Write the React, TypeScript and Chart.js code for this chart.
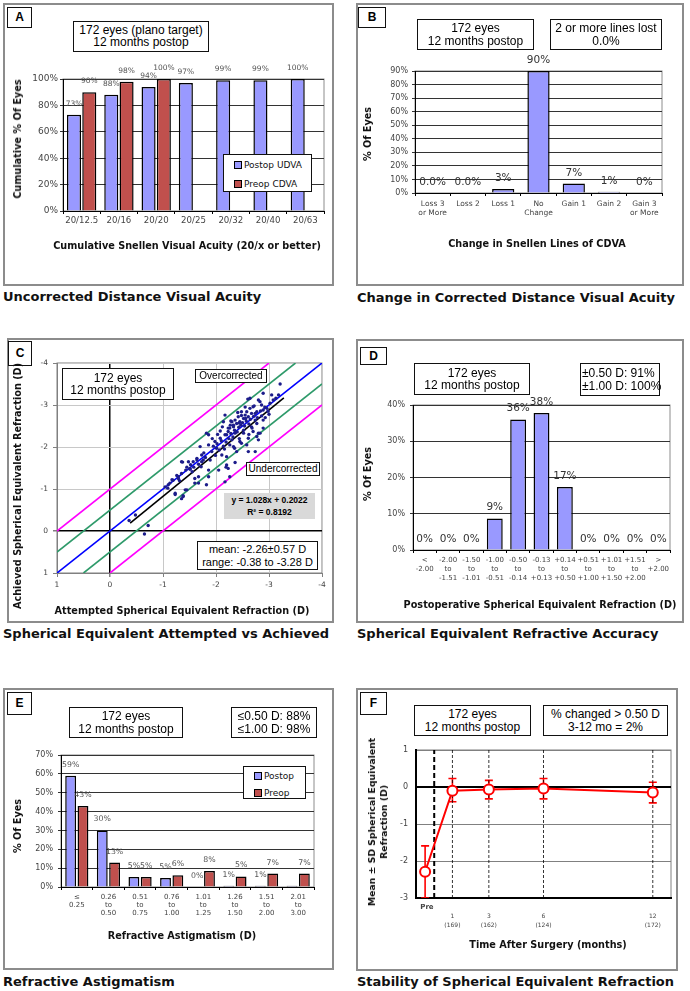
import React, { useEffect, useRef } from "react";
import { Chart, registerables } from "chart.js";

Chart.register(...registerables);
Chart.defaults.font.family = "'DejaVu Sans', Verdana, sans-serif";
Chart.defaults.color = "#444";

// ================= DATA =================
// Panel A - cumulative Snellen acuity
const acuityLabels = ["20/12.5", "20/16", "20/20", "20/25", "20/32", "20/40", "20/63"];
const postopUdva = [73, 88, 94, 97, 99, 99, 100];
const preopCdva = [90, 98, 100, null, null, null, null];
const postopUdvaText = ["73%", "88%", "94%", "97%", "99%", "99%", "100%"];
const preopCdvaText = ["90%", "98%", "100%", null, null, null, null];

// Panel B - change in lines of CDVA
const lineChangeLabels = [["Loss 3", "or More"], "Loss 2", "Loss 1", ["No", "Change"], "Gain 1", "Gain 2", ["Gain 3", "or More"]];
const lineChangeValues = [0, 0, 3, 90, 7, 1, 0];
const lineChangeText = ["0.0%", "0.0%", "3%", "90%", "7%", "1%", "0%"];

// Panel C - attempted vs achieved SE (D)
const attempted = [
  -0.36, -0.48, -0.72, -0.65, -1.04, -1.09, -1.13, -1.19, -1.23, -1.29, -1.35, -1.38, -1.42, -1.37, -1.43, -1.48,
  -1.51, -1.55, -1.6, -1.64, -1.67, -1.72, -1.76, -1.82, -1.86, -1.29, -1.45, -1.57, -1.64, -1.73, -1.82, -1.86,
  -1.92, -1.98, -2.01, -2.08, -2.11, -2.17, -2.2, -2.23, -2.26, -2.3, -2.33, -2.36, -2.39, -2.45, -2.48, -2.52,
  -2.56, -2.61, -2.67, -2.74, -2.8, -1.73, -1.67, -1.6, -2.05, -2.17, -2.23, -3.21, -3.18, -3.13, -3.08, -3.02,
  -2.96, -2.89, -2.83, -2.8, -2.86, -2.77, -2.7, -2.67, -2.64, -2.61, -2.58, -2.55, -2.52, -2.48, -2.44, -2.42,
  -2.39, -2.36, -2.33, -2.3, -2.26, -2.23, -2.17, -2.14, -2.2, -2.83, -2.77, -2.89, -2.68, -2.8, -2.61, -2.7,
  -3.05, -2.89, -2.6, -2.52, -2.45, -2.58, -2.33, -2.74, -2.26, -2.36, -2.19, -2.77, -2.89, -2.2, -1.89, -1.7,
  -1.86, -1.23, -1.35, -1.38, -1.45, -1.67, -1.86, -1.35, -1.51, -1.95, -2.02, -2.06, -2.1, -2.14, -2.19, -2.24,
  -2.28, -2.32, -2.35, -2.4, -2.43, -2.47, -2.5, -2.54, -2.57, -2.62, -2.65, -2.71, -2.74, -2.78, -2.84, -2.92,
  -2.98, -2.03, -1.93, -1.8, -1.77, -1.99, -2.08, -2.28, -2.41, -2.55, -2.64, -1.1, -1.17, -1.26, -1.31, -1.52,
  -1.58, -2.12, -2.35, -2.62, -2.93, -2.72, -2.48, -2.27, -3.0, -2.86, -2.44, -2.16,
];
const achieved = [
  -0.25, -0.38, -0.13, 0.07, -1.05, -1.02, -1.14, -1.21, -0.87, -1.29, -1.37, -0.82, -0.98, -1.64, -1.45, -1.65,
  -1.49, -1.41, -1.14, -1.69, -1.59, -1.53, -1.69, -1.1, -1.45, -1.25, -1.52, -1.65, -1.73, -1.81, -2.33, -2.05,
  -1.89, -2.13, -1.97, -2.21, -1.81, -2.29, -1.57, -2.45, -2.05, -2.17, -2.52, -2.33, -1.89, -2.6, -2.09, -2.4,
  -2.68, -2.21, -2.48, -2.64, -2.33, -1.65, -1.29, -1.25, -1.45, -1.17, -1.49, -3.5, -3.24, -3.16, -3.12, -3.04,
  -2.92, -2.88, -3.08, -3.12, -3.0, -2.84, -2.96, -2.8, -2.92, -2.72, -2.84, -2.76, -2.68, -2.84, -2.57, -2.72,
  -2.56, -2.64, -2.48, -2.6, -2.45, -2.37, -2.76, -2.6, -2.29, -2.33, -2.56, -2.64, -2.45, -2.17, -1.89, -2.37,
  -3.24, -3.28, -3.14, -2.33, -2.13, -2.05, -2.01, -1.89, -1.29, -1.63, -1.52, -2.25, -2.45, -1.77, -1.69, -2.01,
  -2.29, -0.9, -0.77, -0.84, -0.98, -1.14, -1.29, -1.65, -1.47, -2.02, -2.08, -1.93, -2.15, -2.02, -2.12, -2.2,
  -2.32, -2.24, -2.4, -2.36, -2.47, -2.52, -2.58, -2.5, -2.62, -2.55, -2.66, -2.73, -2.8, -2.7, -2.86, -2.95,
  -2.85, -2.3, -2.2, -1.75, -1.86, -1.8, -2.38, -2.62, -2.82, -2.95, -3.16, -1.1, -1.22, -1.32, -1.2, -1.58,
  -1.52, -2.48, -1.97, -2.3, -2.7, -2.98, -2.75, -2.52, -2.78, -2.74, -2.2, -1.95,
];
const identityLine = [{ x: 1, y: 1 }, { x: -4, y: -4 }];
const overHalfLine = [{ x: 1, y: 0.5 }, { x: -3.5, y: -4 }];
const underHalfLine = [{ x: 0.5, y: 1 }, { x: -4, y: -3.5 }];
const overOneLine = [{ x: 1, y: 0 }, { x: -3, y: -4 }];
const underOneLine = [{ x: 0, y: 1 }, { x: -4, y: -3 }];
const regressionLine = [{ x: -0.38, y: -0.19 }, { x: -3.28, y: -3.17 }];

// Panel D - SE accuracy
const seBins = [
  ["<", "-2.00"], ["-2.00", "to", "-1.51"], ["-1.50", "to", "-1.01"], ["-1.00", "to", "-0.51"],
  ["-0.50", "to", "-0.14"], ["-0.13", "to", "+0.13"], ["+0.14", "to", "+0.50"], ["+0.51", "to", "+1.00"],
  ["+1.01", "to", "+1.50"], ["+1.51", "to", "+2.00"], [">", "+2.00"],
];
const seValues = [0, 0, 0, 8.7, 36, 37.8, 17.4, 0, 0, 0, 0];
const seText = ["0%", "0%", "0%", "9%", "36%", "38%", "17%", "0%", "0%", "0%", "0%"];

// Panel E - refractive astigmatism
const astigBins = [
  ["\u2264", "0.25"], ["0.26", "to", "0.50"], ["0.51", "to", "0.75"], ["0.76", "to", "1.00"],
  ["1.01", "to", "1.25"], ["1.26", "to", "1.50"], ["1.51", "to", "2.00"], ["2.01", "to", "3.00"],
];
const astigPostop = [59, 30, 5.3, 4.8, 0, 0.6, 0.6, 0.6];
const astigPreop = [43, 13, 5.3, 6.2, 8.5, 5.6, 7.1, 7.1];
const astigPostopText = ["59%", "30%", "5%", "5%", "0%", "1%", "1%", null];
const astigPreopText = ["43%", "13%", "5%", "6%", "8%", "5%", "7%", "7%"];

// Panel F - stability
const stabMonths = [-0.5, 1, 3, 6, 12];
const stabMean = [-2.29, -0.1, -0.07, -0.04, -0.15];
const stabUpper = [-1.59, 0.23, 0.18, 0.23, 0.13];
const stabLower = [-3.0, -0.4, -0.32, -0.32, -0.43];
const stabTickValues = [-0.4, 1, 3, 6, 12];
const stabTickText = [["Pre"], ["", "1", "(169)"], ["", "3", "(162)"], ["", "6", "(124)"], ["", "12", "(172)"]];
const stabVisitLines = [1, 3, 6, 12];
const surgeryLine = 0;

// ================= STYLE =================
const BLUE = "#9999FF";
const RED = "#C0504D";
const ARIAL = "'Liberation Sans', Arial, sans-serif";
const VERD = "'DejaVu Sans', Verdana, sans-serif";

type Rect = { x: number; y: number; w: number; h: number };
type Plot = { l: number; t: number; r: number; b: number };

function geom(frame: Rect, plot: Plot) {
  return {
    layout: { padding: { left: 0, top: plot.t - frame.y, right: frame.x + frame.w - plot.r, bottom: 0 } },
    yFit: (s: any) => { s.width = plot.l - frame.x; },
    xFit: (s: any) => { s.height = frame.y + frame.h - plot.b; },
  };
}

const baseOptions = {
  responsive: true,
  maintainAspectRatio: false,
  animation: false,
  devicePixelRatio: 1,
  events: [],
  plugins: { legend: { display: false }, tooltip: { enabled: false }, title: { display: false } },
};

function framePlugin(color: string) {
  return {
    id: "plotFrame",
    beforeDraw(chart: any) {
      const { ctx, chartArea: a } = chart;
      ctx.save();
      ctx.strokeStyle = color;
      ctx.lineWidth = 1;
      ctx.strokeRect(a.left, a.top, a.right - a.left, a.bottom - a.top);
      ctx.restore();
    },
  };
}

function barLabels(texts: (string | null)[][], font: string, color: string, offset: number) {
  return {
    id: "barLabels",
    afterDatasetsDraw(chart: any) {
      const ctx = chart.ctx;
      ctx.save();
      ctx.font = font;
      ctx.fillStyle = color;
      ctx.textAlign = "center";
      ctx.textBaseline = "middle";
      texts.forEach((arr, di) => {
        const meta = chart.getDatasetMeta(di);
        arr.forEach((t, i) => {
          const el = meta.data[i];
          if (t == null || !el) return;
          ctx.fillText(t, el.x, el.y - offset);
        });
      });
      ctx.restore();
    },
  };
}

function errorBars(datasetIndex: number, upper: number[], lower: number[], color: string) {
  return {
    id: "errorBars",
    beforeDatasetsDraw(chart: any) {
      const meta = chart.getDatasetMeta(datasetIndex);
      const ys = chart.scales.y;
      const a = chart.chartArea;
      const ctx = chart.ctx;
      ctx.save();
      ctx.beginPath();
      ctx.rect(a.left, a.top - 2, a.right - a.left, a.bottom - a.top + 2);
      ctx.clip();
      ctx.strokeStyle = color;
      ctx.lineWidth = 1.6;
      meta.data.forEach((pt: any, i: number) => {
        const yu = ys.getPixelForValue(upper[i]);
        const yl = ys.getPixelForValue(lower[i]);
        ctx.beginPath();
        ctx.moveTo(pt.x, yu);
        ctx.lineTo(pt.x, yl);
        ctx.moveTo(pt.x - 4, yu);
        ctx.lineTo(pt.x + 4, yu);
        ctx.moveTo(pt.x - 4, yl);
        ctx.lineTo(pt.x + 4, yl);
        ctx.stroke();
      });
      ctx.restore();
    },
  };
}

// ================= COMPONENTS =================
function ChartBox({ rect, make }: { rect: Rect; make: () => any }) {
  const ref = useRef<HTMLCanvasElement>(null);
  useEffect(() => {
    const chart = new Chart(ref.current as HTMLCanvasElement, make());
    return () => chart.destroy();
  }, []);
  return (
    <div style={{ position: "absolute", left: rect.x, top: rect.y, width: rect.w, height: rect.h }}>
      <canvas ref={ref} />
    </div>
  );
}

function Frame({ r }: { r: Rect }) {
  return (
    <div style={{ position: "absolute", left: r.x, top: r.y, width: r.w, height: r.h, border: "2px solid #8c8c8c", boxSizing: "border-box" }} />
  );
}

function Box({ r, lines, font, align = "center", bg = "#fff", border = "1px solid #111", lh = 12.5, pad = 0 }: any) {
  return (
    <div
      style={{
        position: "absolute", left: r.x, top: r.y, width: r.w, height: r.h, boxSizing: "border-box",
        border, background: bg, display: "flex", flexDirection: "column", justifyContent: "center",
        alignItems: align === "center" ? "center" : "flex-start", paddingLeft: pad, font, lineHeight: lh + "px",
        color: "#000", whiteSpace: "nowrap", zIndex: 2,
      }}
    >
      {lines.map((l: string, i: number) => (<div key={i}>{l}</div>))}
    </div>
  );
}

function Letter({ r, text }: { r: Rect; text: string }) {
  return <Box r={r} lines={[text]} font={`bold 12px ${ARIAL}`} border="1.5px solid #111" />;
}

function Caption({ x, cy, text }: { x: number; cy: number; text: string }) {
  return (
    <div style={{ position: "absolute", left: x, top: cy - 8, lineHeight: "16px", font: `bold 13px ${VERD}`, color: "#111", whiteSpace: "nowrap" }}>
      {text}
    </div>
  );
}

function AxisTitle({ cx, cy, lines, vertical = false, size = 9.7, lh = 12 }: any) {
  return (
    <div
      style={{
        position: "absolute", left: cx, top: cy, transform: `translate(-50%,-50%)${vertical ? " rotate(-90deg)" : ""}`,
        whiteSpace: "nowrap", font: `bold ${size}px ${VERD}`, lineHeight: lh + "px", textAlign: "center", color: "#111", zIndex: 2,
      }}
    >
      {lines.map((l: string, i: number) => (<div key={i}>{l}</div>))}
    </div>
  );
}

function Legend({ r, items, rows }: { r: Rect; items: { label: string; color: string }[]; rows: number[] }) {
  return (
    <div style={{ position: "absolute", left: r.x, top: r.y, width: r.w, height: r.h, border: "1px solid #111", background: "#fff", boxSizing: "border-box", zIndex: 2 }}>
      {items.map((it, i) => (
        <div key={i} style={{ position: "absolute", left: 10, top: rows[i] - r.y - 6, height: 12, display: "flex", alignItems: "center", font: `9px ${VERD}`, color: "#111", whiteSpace: "nowrap" }}>
          <span style={{ display: "inline-block", width: 6, height: 6, background: it.color, border: "1px solid #000", marginRight: 2 }} />
          {it.label}
        </div>
      ))}
    </div>
  );
}

// ---------- category bar chart factory ----------
function barConfig(frame: Rect, plot: Plot, labels: any[], datasets: any[], yMax: number, yStep: number, opt: any) {
  const g = geom(frame, plot);
  return {
    type: "bar",
    data: {
      labels,
      datasets: datasets.map((d) => ({ ...d, borderColor: "#000", borderWidth: 1.5 })),
    },
    options: {
      ...baseOptions,
      layout: g.layout,
      datasets: { bar: { categoryPercentage: opt.cat, barPercentage: opt.bar } },
      scales: {
        x: {
          afterFit: g.xFit,
          grid: { offset: true, drawOnChartArea: false, drawTicks: true, tickLength: 3, color: "#000" },
          border: { display: true, color: "#000", width: 1 },
          ticks: { autoSkip: false, maxRotation: 0, minRotation: 0, padding: opt.xPad, color: "#444", font: opt.xFont },
        },
        y: {
          afterFit: g.yFit,
          min: 0,
          max: yMax,
          grid: { color: "#333", drawTicks: true, tickLength: 3 },
          border: { display: true, color: "#000", width: 1 },
          ticks: { stepSize: yStep, padding: opt.yPad, color: "#444", font: opt.yFont, callback: (v: any) => v + "%" },
        },
      },
    },
    plugins: [framePlugin("#8c8c8c"), barLabels(opt.texts, opt.labelFont, opt.labelColor, opt.labelOffset)],
  };
}

// ================= PANELS =================
function PanelA() {
  const frame = { x: 3, y: 3, w: 331, h: 283 };
  const plot = { l: 63, t: 79, r: 324, b: 211 };
  return (
    <>
      <Frame r={frame} />
      <ChartBox
        rect={frame}
        make={() =>
          barConfig(frame, plot, acuityLabels,
            [
              { label: "Postop UDVA", data: postopUdva, backgroundColor: BLUE },
              { label: "Preop CDVA", data: preopCdva, backgroundColor: RED },
            ],
            100, 20,
            {
              cat: 0.82, bar: 0.92, xPad: 1.6, yPad: 2,
              xFont: { size: 8.6, lineHeight: 1.2 }, yFont: { size: 9 },
              texts: [postopUdvaText, preopCdvaText], labelFont: `7.5px ${VERD}`, labelColor: "#555", labelOffset: 11,
            })
        }
      />
      <Letter r={{ x: 7, y: 7, w: 25, h: 21 }} text="A" />
      <Box r={{ x: 73, y: 21, w: 136, h: 31 }} lines={["172 eyes (plano target)", "12 months postop"]} font={`12px ${ARIAL}`} lh={11.5} />
      <Legend r={{ x: 223, y: 154, w: 89, h: 38 }} rows={[164, 183]} items={[{ label: "Postop UDVA", color: BLUE }, { label: "Preop CDVA", color: RED }]} />
      <AxisTitle cx={187} cy={246} lines={["Cumulative Snellen Visual Acuity (20/x or better)"]} />
      <AxisTitle cx={18} cy={139} lines={["Cumulative % Of Eyes"]} vertical />
      <Caption x={3} cy={297} text="Uncorrected Distance Visual Acuity" />
    </>
  );
}

function PanelB() {
  const frame = { x: 356, y: 3, w: 328, h: 283 };
  const plot = { l: 415, t: 71, r: 662, b: 193 };
  return (
    <>
      <Frame r={frame} />
      <ChartBox
        rect={frame}
        make={() =>
          barConfig(frame, plot, lineChangeLabels,
            [{ label: "CDVA change", data: lineChangeValues, backgroundColor: BLUE }],
            90, 10,
            {
              cat: 1, bar: 0.63, xPad: 3.5, yPad: 4,
              xFont: { size: 7.5, lineHeight: 1.2 }, yFont: { size: 8 },
              texts: [lineChangeText], labelFont: `10.5px ${VERD}`, labelColor: "#333", labelOffset: 10.5,
            })
        }
      />
      <Letter r={{ x: 358, y: 7, w: 28, h: 21 }} text="B" />
      <Box r={{ x: 417, y: 19, w: 117, h: 31 }} lines={["172 eyes", "12 months postop"]} font={`12px ${ARIAL}`} />
      <Box r={{ x: 550, y: 19, w: 112, h: 31 }} lines={["2 or more lines lost", "0.0%"]} font={`12px ${ARIAL}`} />
      <AxisTitle cx={537} cy={244} lines={["Change in Snellen Lines of CDVA"]} />
      <AxisTitle cx={368} cy={134} lines={["% Of Eyes"]} vertical />
      <Caption x={357} cy={298} text="Change in Corrected Distance Visual Acuity" />
    </>
  );
}

function PanelC() {
  const frame = { x: 7, y: 338, w: 327, h: 285 };
  const plot = { l: 57, t: 363, r: 322, b: 573 };
  const make = () => {
    const g = geom(frame, plot);
    const line = (data: any, color: string) => ({
      data, showLine: true, borderColor: color, borderWidth: 1.6, pointRadius: 0, fill: false,
    });
    const axisCommon = (fit: any, pad: number) => ({
      afterFit: fit,
      type: "linear",
      min: -4,
      max: 1,
      reverse: true,
      grid: {
        color: (c: any) => (c.tick && c.tick.value === 0 ? "#000" : "#c8c8c8"),
        lineWidth: (c: any) => (c.tick && c.tick.value === 0 ? 1.5 : 1),
        drawTicks: true, tickLength: 4, tickColor: "#808080",
      },
      border: { display: true, color: "#808080", width: 1 },
      ticks: { stepSize: 1, padding: pad, color: "#444", font: { size: 7.5, lineHeight: 1.2 } },
    });
    return {
      type: "scatter",
      data: {
        datasets: [
          {
            label: "Eyes",
            data: attempted.map((x, i) => ({ x, y: achieved[i] })),
            pointRadius: 1.7, pointBackgroundColor: "#1c1c8a", pointBorderWidth: 0, showLine: false,
          },
          line(regressionLine, "#000"),
          line(identityLine, "#0000FF"),
          line(overHalfLine, "#2E9A6A"),
          line(underHalfLine, "#2E9A6A"),
          line(overOneLine, "#FF00FF"),
          line(underOneLine, "#FF00FF"),
        ],
      },
      options: {
        ...baseOptions,
        layout: g.layout,
        scales: { x: axisCommon(g.xFit, 3.5), y: axisCommon(g.yFit, 5) },
      },
      plugins: [framePlugin("#808080")],
    };
  };
  return (
    <>
      <Frame r={frame} />
      <ChartBox rect={frame} make={make} />
      <Letter r={{ x: 8, y: 341, w: 24, h: 25 }} text="C" />
      <Box r={{ x: 62, y: 368, w: 112, h: 32 }} lines={["172 eyes", "12 months postop"]} font={`12px ${ARIAL}`} />
      <Box r={{ x: 195, y: 369, w: 72, h: 14 }} lines={["Overcorrected"]} font={`10px ${ARIAL}`} lh={12} />
      <Box r={{ x: 246, y: 462, w: 74, h: 14 }} lines={["Undercorrected"]} font={`10px ${ARIAL}`} lh={12} />
      <Box r={{ x: 224, y: 493, w: 91, h: 26 }} lines={["y =  1.028x + 0.2022", "R\u00b2 = 0.8192"]} font={`bold 8.5px ${ARIAL}`} bg="#d9d9d9" border="none" lh={12} />
      <Box r={{ x: 197, y: 541, w: 121, h: 29 }} lines={["mean: -2.26\u00b10.57 D", "range: -0.38 to -3.28 D"]} font={`11px ${ARIAL}`} lh={12.5} />
      <AxisTitle cx={182} cy={611} lines={["Attempted Spherical Equivalent Refraction (D)"]} />
      <AxisTitle cx={18} cy={486} lines={["Achieved Spherical Equivalent Refraction (D)"]} vertical />
      <Caption x={3} cy={634} text="Spherical Equivalent Attempted vs Achieved" />
    </>
  );
}

function PanelD() {
  const frame = { x: 356, y: 339, w: 328, h: 284 };
  const plot = { l: 413, t: 405, r: 670, b: 550 };
  return (
    <>
      <Frame r={frame} />
      <ChartBox
        rect={frame}
        make={() =>
          barConfig(frame, plot, seBins,
            [{ label: "Postop SE", data: seValues, backgroundColor: BLUE }],
            40, 10,
            {
              cat: 1, bar: 0.68, xPad: 2.5, yPad: 5,
              xFont: { size: 7, lineHeight: 1.29 }, yFont: { size: 8 },
              texts: [seText], labelFont: `10.5px ${VERD}`, labelColor: "#333", labelOffset: 11,
            })
        }
      />
      <Letter r={{ x: 360, y: 347, w: 27, h: 18 }} text="D" />
      <Box r={{ x: 414, y: 363, w: 116, h: 32 }} lines={["172 eyes", "12 months postop"]} font={`12px ${ARIAL}`} />
      <Box r={{ x: 580, y: 363, w: 80, h: 33 }} lines={["\u00b10.50 D: 91%", "\u00b11.00 D: 100%"]} font={`12px ${ARIAL}`} align="left" pad={1} />
      <AxisTitle cx={540} cy={605} lines={["Postoperative Spherical Equivalent Refraction (D)"]} />
      <AxisTitle cx={368} cy={474} lines={["% Of Eyes"]} vertical />
      <Caption x={357} cy={634} text="Spherical Equivalent Refractive Accuracy" />
    </>
  );
}

function PanelE() {
  const frame = { x: 3, y: 688, w: 331, h: 282 };
  const plot = { l: 61, t: 755, r: 314, b: 887 };
  return (
    <>
      <Frame r={frame} />
      <ChartBox
        rect={frame}
        make={() =>
          barConfig(frame, plot, astigBins,
            [
              { label: "Postop", data: astigPostop, backgroundColor: BLUE },
              { label: "Preop", data: astigPreop, backgroundColor: RED },
            ],
            70, 10,
            {
              cat: 0.78, bar: 0.88, xPad: 3, yPad: 5,
              xFont: { size: 7, lineHeight: 1.15 }, yFont: { size: 8 },
              texts: [astigPostopText, astigPreopText], labelFont: `7.8px ${VERD}`, labelColor: "#555", labelOffset: 11,
            })
        }
      />
      <Letter r={{ x: 7, y: 692, w: 25, h: 23 }} text="E" />
      <Box r={{ x: 69, y: 707, w: 114, h: 31 }} lines={["172 eyes", "12 months postop"]} font={`12px ${ARIAL}`} />
      <Box r={{ x: 231, y: 707, w: 86, h: 31 }} lines={["\u22640.50 D: 88%", "\u22641.00 D: 98%"]} font={`12px ${ARIAL}`} />
      <Legend r={{ x: 243, y: 766, w: 63, h: 33 }} rows={[775, 792]} items={[{ label: "Postop", color: BLUE }, { label: "Preop", color: RED }]} />
      <AxisTitle cx={182} cy={936} lines={["Refractive Astigmatism (D)"]} />
      <AxisTitle cx={18} cy={826} lines={["% Of Eyes"]} vertical />
      <Caption x={3} cy={982} text="Refractive Astigmatism" />
    </>
  );
}

function PanelF() {
  const frame = { x: 356, y: 688, w: 322, h: 283 };
  const plot = { l: 416, t: 750, r: 672, b: 898 };
  const make = () => {
    const g = geom(frame, plot);
    const vline = (x: number, width: number, dash: number[]) => ({
      data: [{ x, y: -3 }, { x, y: 1 }], showLine: true, borderColor: "#000", borderWidth: width,
      borderDash: dash, pointRadius: 0, fill: false,
    });
    return {
      type: "scatter",
      data: {
        datasets: [
          {
            label: "Mean SE",
            data: stabMonths.map((x, i) => ({ x, y: stabMean[i] })),
            showLine: true, borderColor: "#FF0000", borderWidth: 2,
            pointRadius: 5, pointBackgroundColor: "#fff", pointBorderColor: "#FF0000", pointBorderWidth: 2,
          },
          vline(surgeryLine, 2, [5, 3]),
          ...stabVisitLines.map((m) => vline(m, 0.8, [3, 2])),
        ],
      },
      options: {
        ...baseOptions,
        layout: g.layout,
        scales: {
          x: {
            afterFit: g.xFit,
            type: "linear",
            min: -1,
            max: 13,
            afterBuildTicks: (s: any) => { s.ticks = stabTickValues.map((v) => ({ value: v })); },
            grid: { display: false, drawTicks: false },
            border: { display: true, color: "#000", width: 2 },
            ticks: {
              autoSkip: false, maxRotation: 0, padding: 4.5, color: "#444",
              callback: (_v: any, i: number) => stabTickText[i],
              font: (c: any) => (c.tick && c.tick.value === stabTickValues[0]
                ? { size: 7, weight: "bold", lineHeight: 1.3 }
                : { size: 6, lineHeight: 1.5 }),
            },
          },
          y: {
            afterFit: g.yFit,
            min: -3,
            max: 1,
            grid: {
              color: (c: any) => (c.tick && c.tick.value === 0 ? "#000" : "#808080"),
              lineWidth: (c: any) => (c.tick && c.tick.value === 0 ? 2 : 1),
              drawTicks: false,
            },
            border: { display: true, color: "#000", width: 2 },
            ticks: { stepSize: 1, padding: 8, color: "#444", font: { size: 8 } },
          },
        },
      },
      plugins: [framePlugin("#808080"), errorBars(0, stabUpper, stabLower, "#FF0000")],
    };
  };
  return (
    <>
      <Frame r={frame} />
      <ChartBox rect={frame} make={make} />
      <Letter r={{ x: 360, y: 692, w: 27, h: 23 }} text="F" />
      <Box r={{ x: 414, y: 705, w: 117, h: 31 }} lines={["172 eyes", "12 months postop"]} font={`12px ${ARIAL}`} />
      <Box r={{ x: 543, y: 705, w: 125, h: 31 }} lines={["% changed > 0.50 D", "3-12 mo = 2%"]} font={`12px ${ARIAL}`} />
      <AxisTitle cx={548} cy={945} lines={["Time After Surgery (months)"]} />
      <AxisTitle cx={378} cy={822} lines={["Mean \u00b1 SD Spherical Equivalent", "Refraction (D)"]} vertical size={9.3} lh={12} />
      <Caption x={357} cy={982} text="Stability of Spherical Equivalent Refraction" />
    </>
  );
}

export default function App() {
  return (
    <div style={{ position: "absolute", left: 0, top: 0, width: 690, height: 991, background: "#fff", overflow: "hidden", fontFamily: VERD }}>
      <PanelA />
      <PanelB />
      <PanelC />
      <PanelD />
      <PanelE />
      <PanelF />
    </div>
  );
}
